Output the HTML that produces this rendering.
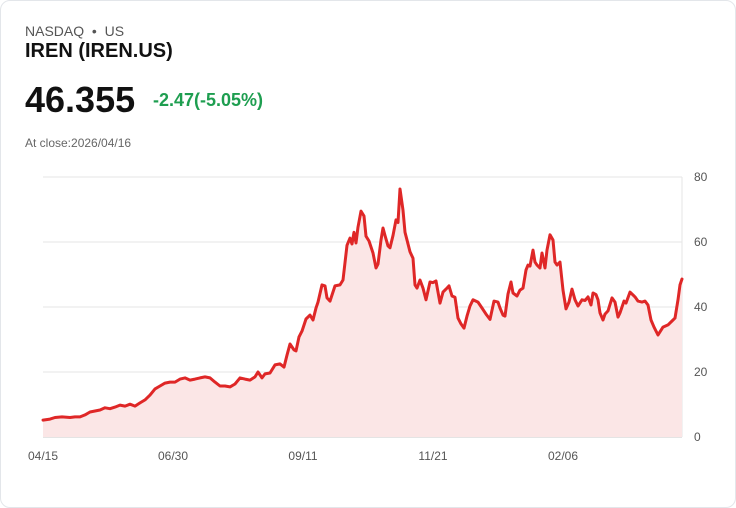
<!DOCTYPE html>
<html><head><meta charset="utf-8"><style>
body{margin:0;background:#fff;font-family:"Liberation Sans",sans-serif;}
.card{position:absolute;left:0;top:0;width:734px;height:506px;border:1px solid #e3e6ea;border-radius:10px;}
.t{position:absolute;white-space:nowrap;}
</style></head><body>
<div class="card"></div>
<div class="t" style="left:25px;top:23px;font-size:14px;color:#555">NASDAQ &nbsp;•&nbsp; US</div>
<div class="t" style="left:25px;top:40px;font-size:20px;font-weight:bold;color:#111">IREN (IREN.US)</div>
<div class="t" style="left:25px;top:79px;font-size:36px;font-weight:bold;color:#111">46.355</div>
<div class="t" style="left:153px;top:90px;font-size:18px;font-weight:bold;color:#1e9e50">-2.47(-5.05%)</div>
<div class="t" style="left:25px;top:136px;font-size:12px;color:#666">At close:2026/04/16</div>
<svg id="chart" width="736" height="508" style="position:absolute;left:0;top:0"></svg>
<script>
const days=[0,7,12,19,27,32,37,42,47,52,57,62,67,72,77,82,87,92,97,102,107,112,117,122,127,132,137,142,147,152,157,162,167,172,177,182,187,192,197,202,207,212,215,219,222,227,232,237,241,244,247,251,253,256,259,263,267,270,273,275,279,282,284,287,292,297,300,304,307,309,311,313,315,318,321,323,326,330,333,335,338,340,342,345,347,350,353,355,357,360,362,364,367,370,372,374,377,380,383,387,390,393,397,400,403,406,409,412,415,418,421,424,427,430,435,439,443,447,451,455,457,460,462,465,468,470,474,477,480,483,485,487,490,492,494,497,499,502,504,507,510,512,514,517,520,523,526,529,532,535,539,542,545,548,550,553,555,557,560,562,565,569,572,575,577,581,583,587,592,595,599,602,605,608,611,615,620,625,629,632,635,637,639];
const prices=[5.2,5.5,6,6.2,6,6.2,6.2,6.8,7.7,8,8.3,9,8.7,9.2,9.8,9.5,10.1,9.5,10.5,11.4,12.9,14.8,15.7,16.6,16.9,16.9,17.8,18.2,17.5,17.8,18.2,18.5,18.2,16.9,15.7,15.7,15.4,16.3,18.2,17.8,17.5,18.5,20,18.2,19.4,19.7,22.2,22.5,21.5,25.2,28.6,26.8,26.5,30.8,32.6,36.3,37.5,36,39.7,41.5,46.8,46.5,42.8,41.8,46.5,46.8,48.3,59,61.2,59.4,63,59.7,64.6,69.5,68,61.8,60.3,56.6,52,53.2,60.6,64.3,62,58.8,58.2,62,66.8,66,76.3,69.8,63,60.6,57,55,46.8,45.8,48.3,45.8,42.2,47.7,47.5,48,41.2,44.6,45.5,46.5,43.4,43,36.6,34.8,33.5,37.2,40.3,42.2,41.5,39.7,37.8,36.2,41.8,41.5,39.7,37.5,37.2,44,47.7,44.3,43.4,45.2,45.8,51.4,52.9,52.6,57.5,53.8,52.9,52,56.6,52,57.5,62.2,60.6,53.8,52.9,53.8,45.2,39.4,41.5,45.5,42.2,40.3,42.2,42,43.1,40.6,44.3,43.8,42.2,38.2,36,37.8,38.8,42.8,41.5,36.9,38.2,41.8,41.2,44.6,43.1,41.8,41.5,41.8,40.6,36,33.8,31.4,33.8,34.5,35.7,36.6,42.2,46.8,48.6,47.8,46.3];
const yTicks=[0,20,40,60,80];
const xLabels=["04/15","06/30","09/11","11/21","02/06"];
const xLabelDays=[0,130,260,390,520];
const X0=43,X1=682,Y0=437,Y1=177;
const xs=d=>X0+(d-days[0])/(days[days.length-1]-days[0])*(X1-X0);
const ys=v=>Y0-(v/80)*(Y0-Y1);
const svg=document.getElementById('chart');
const NS='http://www.w3.org/2000/svg';
function mk(tag,attrs){const e=document.createElementNS(NS,tag);for(const k in attrs)e.setAttribute(k,attrs[k]);svg.appendChild(e);return e;}
yTicks.forEach(v=>{
  const l=mk('line',{x1:X0,x2:X1,y1:ys(v),y2:ys(v),stroke:v===0?'#c8c8c8':'#e6e6e6','stroke-width':1});
  
  
  const t=mk('text',{x:694,y:ys(v)+4,'font-size':12,fill:'#555','font-family':'Liberation Sans, sans-serif'});
  t.textContent=v;
  
  
});
const ax=mk('line',{x1:X1,x2:X1,y1:Y1,y2:Y0,stroke:'#e6e6e6'});


xLabels.forEach((s,i)=>{
  const t=mk('text',{x:xs(xLabelDays[i]),y:460,'font-size':12,fill:'#555','text-anchor':'middle','font-family':'Liberation Sans, sans-serif'});
  t.textContent=s;
  
  
});
let d='';
days.forEach((dd,i)=>{d+=(i?'L':'M')+xs(dd).toFixed(1)+','+ys(prices[i]).toFixed(1);});
const area=mk('path',{d:d+'L'+xs(days[days.length-1])+','+Y0+'L'+xs(days[0])+','+Y0+'Z',fill:'#fbe6e6'});


const line=mk('path',{d:d,fill:'none',stroke:'#df2727','stroke-width':3,'stroke-linejoin':'round','stroke-linecap':'round'});


</script>
</body></html>
